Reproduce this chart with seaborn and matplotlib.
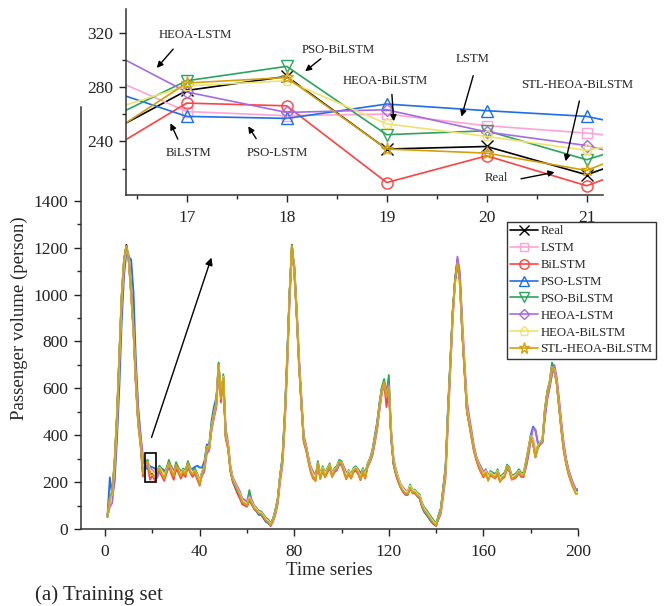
import numpy as np
import pandas as pd
import matplotlib
matplotlib.use("Agg")
import matplotlib.pyplot as plt
from matplotlib.lines import Line2D
from matplotlib.patches import Rectangle, FancyArrowPatch
import seaborn as sns

# ---------------- data ----------------
series_names = ["Real", "LSTM", "BiLSTM", "PSO-LSTM", "PSO-BiLSTM",
                "HEOA-LSTM", "HEOA-BiLSTM", "STL-HEOA-BiLSTM"]
time_index = list(range(1, 201))

real = [53,138,153,281,479,735,991,1148,1212,1148,
        1007,849,623,452,367,238,278,288,234,236,
        215,242,266,245,223,252,287,252,230,273,
        252,230,252,239,281,252,239,252,225,195,
        240,266,351,345,437,495,537,704,560,650,
        394,351,252,209,188,166,145,117,111,102,
        132,111,90,81,68,68,53,38,31,17,
        38,74,124,223,294,479,721,1000,1212,1105,
        921,708,536,380,345,294,252,230,217,281,
        223,260,230,252,273,230,252,260,287,281,
        252,223,245,223,252,260,245,217,252,223,
        273,294,324,380,437,522,593,629,565,607,
        394,281,239,209,181,166,153,153,181,159,
        159,145,138,102,81,68,53,38,26,17,
        53,81,166,252,495,708,921,1063,1140,1063,
        849,679,508,452,394,337,300,273,252,230,
        245,217,239,230,223,245,209,223,230,266,
        252,217,223,230,245,230,230,281,337,394,
        366,309,351,366,380,508,580,623,693,679,
        623,522,423,337,281,239,209,181,159,159]

lstm = [60,120,160,260,450,700,960,1120,1190,1160,
        1020,870,650,480,380,294,262,259,260,252,
        246,239,255,250,235,248,275,260,240,265,
        258,240,248,245,270,258,245,250,232,205,
        235,260,330,350,420,480,530,680,580,630,
        420,360,265,215,195,175,150,125,118,108,
        130,120,98,88,75,72,60,45,35,20,
        35,70,118,210,285,460,700,985,1190,1120,
        940,725,555,395,350,300,260,238,225,272,
        235,255,238,250,268,240,250,262,280,283,
        258,232,245,230,250,258,248,225,248,232,
        268,290,318,372,430,510,585,620,580,600,
        420,295,250,215,190,172,160,158,178,165,
        162,150,142,110,88,72,58,42,30,20,
        45,75,155,240,470,690,900,1050,1130,1080,
        880,700,530,465,405,345,305,280,260,240,
        248,228,240,235,230,242,218,225,235,258,
        258,225,228,232,242,235,232,270,325,380,
        390,340,345,365,380,490,570,615,680,680,
        640,545,445,355,295,250,218,190,170,170]

bilstm = [55,130,150,270,470,720,980,1140,1200,1150,
          1000,840,615,445,355,224,268,266,210,229,
          207,235,245,225,205,240,270,235,210,255,
          240,215,235,222,265,240,222,238,210,185,
          238,262,345,340,430,480,520,690,540,640,
          385,340,245,200,175,150,130,105,100,95,
          120,105,85,75,60,60,45,30,25,12,
          36,72,120,218,290,470,710,995,1200,1100,
          910,700,525,370,335,285,240,215,205,270,
          215,250,220,240,262,222,242,250,275,272,
          242,212,235,215,242,250,235,208,242,215,
          265,288,320,375,430,515,585,620,520,600,
          390,275,230,200,175,158,145,145,175,152,
          152,140,130,95,75,60,46,32,20,12,
          50,78,160,248,485,700,915,1055,1130,1060,
          840,670,500,445,385,330,292,262,240,220,
          238,210,230,222,215,235,202,215,222,258,
          245,210,215,222,238,222,222,275,330,388,
          362,305,345,360,372,500,575,620,690,675,
          618,515,415,330,275,232,202,175,155,155]

pso_lstm = [60,220,140,200,380,600,880,1080,1180,1160,
            1150,1010,720,520,400,283,259,257,268,263,
            259,243,262,258,250,248,262,260,252,258,
            258,248,250,245,262,255,258,265,270,262,
            262,290,360,360,460,520,560,660,600,610,
            410,355,250,205,180,160,140,118,110,105,
            125,108,88,78,62,62,48,32,25,15,
            40,80,130,230,310,500,740,1010,1180,1120,
            930,715,545,390,345,300,258,240,230,270,
            240,258,245,250,265,242,250,258,275,280,
            262,240,245,235,255,262,255,238,255,240,
            275,300,335,395,455,535,600,615,575,590,
            380,275,235,205,178,162,150,150,175,160,
            155,142,132,95,72,60,45,30,20,15,
            60,90,180,270,520,720,930,1060,1150,1080,
            860,690,520,455,395,340,300,275,255,238,
            248,230,242,240,235,245,225,228,240,255,
            255,228,225,232,245,238,235,265,320,400,
            437,420,370,360,375,480,560,610,660,690,
            630,530,430,345,290,245,215,188,165,165]

pso_bilstm = [58,125,165,290,490,745,1000,1150,1205,1140,
              1005,850,630,455,370,249,285,295,245,248,
              227,250,270,255,235,262,295,260,240,285,
              262,240,258,248,290,260,248,258,235,205,
              245,270,355,350,440,500,545,710,570,660,
              400,355,260,215,195,175,155,128,120,112,
              166,120,100,90,78,75,62,48,40,25,
              45,80,130,228,298,485,725,1005,1210,1100,
              925,712,540,385,355,300,258,235,222,290,
              230,268,238,260,280,238,260,268,295,290,
              260,230,252,230,260,268,252,225,260,230,
              280,300,330,385,442,530,605,640,580,657,
              400,290,245,215,190,175,162,160,190,168,
              168,155,148,112,92,80,65,50,36,25,
              55,85,170,255,498,712,925,1068,1145,1060,
              850,680,510,455,400,342,305,278,258,235,
              255,225,248,238,230,255,218,232,240,275,
              262,225,232,240,255,240,240,290,345,398,
              370,312,355,370,385,515,590,630,710,685,
              628,525,428,342,285,243,212,183,160,162]

heoa_lstm = [50,95,110,220,420,680,950,1110,1195,1170,
             1030,880,680,500,400,315,277,261,263,247,
             237,218,245,240,225,240,265,270,240,260,
             255,235,240,240,265,262,240,238,230,200,
             225,245,320,335,420,470,520,680,590,640,
             430,370,270,220,200,180,160,130,125,115,
             140,125,100,90,75,70,58,42,35,20,
             30,60,105,200,270,440,680,960,1180,1130,
             950,740,570,400,360,305,265,245,230,265,
             240,250,235,245,265,245,245,255,275,285,
             265,235,240,225,245,262,250,230,245,228,
             265,285,310,360,420,500,575,615,600,620,
             420,300,255,220,192,178,165,160,175,165,
             165,150,140,108,85,72,58,42,30,18,
             40,65,140,220,450,670,890,1050,1162,1100,
             900,720,550,480,420,355,310,285,265,245,
             250,232,235,232,225,240,220,222,232,255,
             248,230,225,228,240,238,232,260,310,375,
             430,425,365,360,370,470,550,600,660,700,
             650,555,455,365,300,255,222,195,172,168]

heoa_bilstm = [55,130,150,275,470,730,985,1140,1205,1145,
               1000,845,625,450,365,258,281,285,253,244,
               233,248,262,248,230,255,280,255,235,270,
               255,235,252,240,278,255,240,250,228,200,
               242,265,350,345,435,490,535,700,565,650,
               400,355,258,212,192,170,150,122,115,105,
               135,115,95,85,72,70,57,42,34,19,
               38,74,124,222,292,478,718,998,1205,1105,
               925,710,540,382,348,296,255,232,220,278,
               228,262,235,254,274,234,254,262,288,283,
               255,228,248,226,255,262,248,220,254,226,
               275,296,326,382,438,520,590,625,570,605,
               400,288,245,215,188,172,160,158,185,165,
               163,150,142,106,86,72,57,42,30,20,
               52,80,165,250,490,705,915,1055,1063,1040,
               860,690,515,455,395,338,302,275,254,232,
               248,220,242,232,226,248,212,226,233,268,
               255,220,226,233,248,232,233,283,340,396,
               368,312,352,368,382,505,578,625,690,682,
               625,524,425,340,283,241,210,182,158,155]

stl_heoa_bilstm = [52,135,155,285,480,740,995,1150,1208,1140,
                   1005,845,620,450,365,235,283,287,234,231,
                   219,248,258,235,215,250,282,248,225,275,
                   250,225,248,232,282,245,232,248,220,190,
                   238,262,348,342,432,492,535,702,555,645,
                   392,350,250,208,186,164,143,115,109,100,
                   130,110,88,80,66,66,52,36,29,15,
                   37,73,123,222,293,478,720,999,1210,1104,
                   918,705,533,377,342,290,245,220,205,282,
                   212,258,222,250,272,222,250,258,288,280,
                   250,215,242,218,250,258,242,210,250,218,
                   272,293,323,378,435,520,590,628,562,605,
                   392,280,236,206,178,163,150,150,178,156,
                   157,143,136,100,79,66,51,36,24,15,
                   52,80,165,251,493,706,919,1060,1135,1060,
                   845,676,505,450,392,335,298,270,248,225,
                   242,205,235,226,218,243,200,220,226,268,
                   250,212,220,228,244,228,228,280,336,393,
                   365,308,350,365,378,506,578,622,692,678,
                   620,520,420,335,279,237,206,178,150,150]

# zoomed window (time steps 16..22)
zoom_index = [16, 17, 18, 19, 20, 21, 22]
zoom_real = [238.0, 277.6, 288.0, 234.4, 236.3, 215.4, 241.7]
zoom_lstm = [294.4, 262.1, 259.0, 260.2, 251.6, 246.2, 238.7]
zoom_bilstm = [224.0, 268.3, 266.3, 209.7, 229.4, 207.3, 234.8]
zoom_pso_lstm = [283.1, 258.5, 257.0, 267.6, 262.7, 258.5, 242.9]
zoom_pso_bilstm = [248.9, 284.8, 295.4, 245.0, 247.9, 226.5, 249.6]
zoom_heoa_lstm = [315.0, 276.5, 261.4, 263.4, 247.0, 237.0, 218.0]
zoom_heoa_bilstm = [257.9, 281.0, 284.8, 253.0, 243.7, 233.4, 248.4]
zoom_stl = [234.7, 283.1, 287.2, 234.4, 231.4, 218.6, 248.0]

# ---------------- style ----------------
colors = ["#000000", "#FFA3D6", "#FF4242", "#1E6FE6", "#2BA55E",
          "#A66BE3", "#F0E270", "#D4A00A"]
markers = ["x", "s", "o", "^", "v", "D", "p", "*"]
msizes = [8, 7, 8, 8, 8, 6.5, 8, 9.5]

sns.set_theme(style="ticks")
plt.rcParams["font.family"] = ["Liberation Serif", "DejaVu Serif"]

W, H = 665, 606
fig = plt.figure(figsize=(W / 100, H / 100), dpi=100)

def fx(px):
    return px / W

def fy(py):
    return 1 - py / H

main_series = [real, lstm, bilstm, pso_lstm, pso_bilstm, heoa_lstm, heoa_bilstm, stl_heoa_bilstm]
zoom_series = [zoom_real, zoom_lstm, zoom_bilstm, zoom_pso_lstm, zoom_pso_bilstm,
               zoom_heoa_lstm, zoom_heoa_bilstm, zoom_stl]

# ---------------- main axes ----------------
ax = fig.add_axes([fx(81), fy(529), fx(578) - fx(81), fy(107) - fy(529)])
for name, vals, c in zip(series_names, main_series, colors):
    df = pd.DataFrame({"t": time_index, "v": vals})
    sns.lineplot(data=df, x="t", y="v", ax=ax, color=c, lw=1.3,
                 estimator=None, sort=False, legend=False)

ax.set_xlim(-10.2, 200)
ax.set_ylim(0, 1800)
ax.set_xticks([0, 40, 80, 120, 160, 200])
ax.set_xticks([20, 60, 100, 140, 180], minor=True)
ax.set_yticks(list(range(0, 1401, 200)))
ax.set_yticks(list(range(100, 1400, 200)), minor=True)
for s in ["top", "right"]:
    ax.spines[s].set_visible(False)
for s in ["left", "bottom"]:
    ax.spines[s].set_linewidth(1.1)
    ax.spines[s].set_color("#333333")
ax.tick_params(axis="both", which="major", direction="out", length=5, width=1.0,
               labelsize=12.5, colors="#222222", pad=4)
ax.tick_params(axis="x", which="major", pad=6)
ax.tick_params(axis="both", which="minor", direction="out", length=3, width=1.0)
ax.set_xlabel("Time series", fontsize=13.5, labelpad=1)
ax.set_ylabel("Passenger volume (person)", fontsize=13.5, labelpad=4)
ax.grid(False)

# zoom box in main axes
ax.add_patch(Rectangle((16.7, 200), 4.8, 125, fill=False, ec="black", lw=1.2, zorder=5))

# legend
handles = [Line2D([0], [0], color=c, marker=m, markersize=ms * 0.85, mfc="none", mec=c,
                  mew=1.0, lw=1.2) for c, m, ms in zip(colors, markers, msizes)]
leg = ax.legend(handles, series_names, loc="upper left",
                bbox_to_anchor=(fx(506.7), fy(222.3)), bbox_transform=fig.transFigure,
                fontsize=9.2, frameon=True, fancybox=False, edgecolor="black",
                handlelength=2.2, handletextpad=0.2, labelspacing=0.38,
                borderpad=0.25, borderaxespad=0)
leg.get_frame().set_linewidth(1.0)

# ---------------- inset axes ----------------
axi = fig.add_axes([fx(125.7), fy(195), fx(602.7) - fx(125.7), fy(9.3) - fy(195)])
axi.patch.set_alpha(0)
for name, vals, c, m, ms in zip(series_names, zoom_series, colors, markers, msizes):
    df = pd.DataFrame({"t": zoom_index, "v": vals})
    sns.lineplot(data=df, x="t", y="v", ax=axi, color=c, lw=1.2, marker=m,
                 markersize=ms, mfc="none", mec=c, mew=1.0,
                 markevery=[1, 2, 3, 4, 5], estimator=None, sort=False, legend=False)
axi.set_xlim(16.39, 21.16)
axi.set_ylim(200.5, 337.5)
axi.set_xticks([17, 18, 19, 20, 21])
axi.set_xticks([16.5, 17.5, 18.5, 19.5, 20.5], minor=True)
axi.set_yticks([240, 280, 320])
axi.set_yticks([220, 260, 300], minor=True)
for s in ["top", "right"]:
    axi.spines[s].set_visible(False)
for s in ["left", "bottom"]:
    axi.spines[s].set_linewidth(1.1)
    axi.spines[s].set_color("#333333")
axi.tick_params(axis="both", which="major", direction="out", length=5, width=1.0,
                labelsize=12.5, colors="#222222", pad=4)
axi.tick_params(axis="x", which="major", pad=6)
axi.tick_params(axis="both", which="minor", direction="out", length=3, width=1.0)
axi.set_xlabel("")
axi.set_ylabel("")
axi.grid(False)

# ---------------- annotations ----------------
def note(text, tx, ty, ax0, ay0, ax1, ay1):
    fig.text(fx(tx), fy(ty), text, ha="center", va="center", fontsize=9.2)
    fig.add_artist(FancyArrowPatch(
        (fx(ax0), fy(ay0)), (fx(ax1), fy(ay1)), transform=fig.transFigure,
        arrowstyle="-|>", mutation_scale=9, color="black", lw=1.0))

note("HEOA-LSTM", 195, 35, 175, 47, 155, 70)
note("PSO-BiLSTM", 338, 50, 323, 57, 303, 73)
note("HEOA-BiLSTM", 385.5, 81, 391.7, 91.7, 394, 124)
note("LSTM", 473, 59.3, 474, 73, 460.7, 119.3)
note("STL-HEOA-BiLSTM", 577.5, 85, 580, 98.3, 565, 164)
note("Real", 496, 178.3, 518.3, 179.3, 557.3, 171.7)
note("BiLSTM", 188.7, 152.7, 179, 141.7, 169.3, 120.7)
note("PSO-LSTM", 277, 152.7, 257.7, 141, 246.7, 124)

# big arrow from the zoom box to the inset
fig.add_artist(FancyArrowPatch(
    (fx(150.7), fy(440)), (fx(212.3), fy(255)), transform=fig.transFigure,
    arrowstyle="-|>", mutation_scale=11, color="black", lw=1.0))

fig.text(fx(35), fy(595), "(a) Training set", ha="left", va="center", fontsize=15)

fig.savefig("out.png", dpi=100)
